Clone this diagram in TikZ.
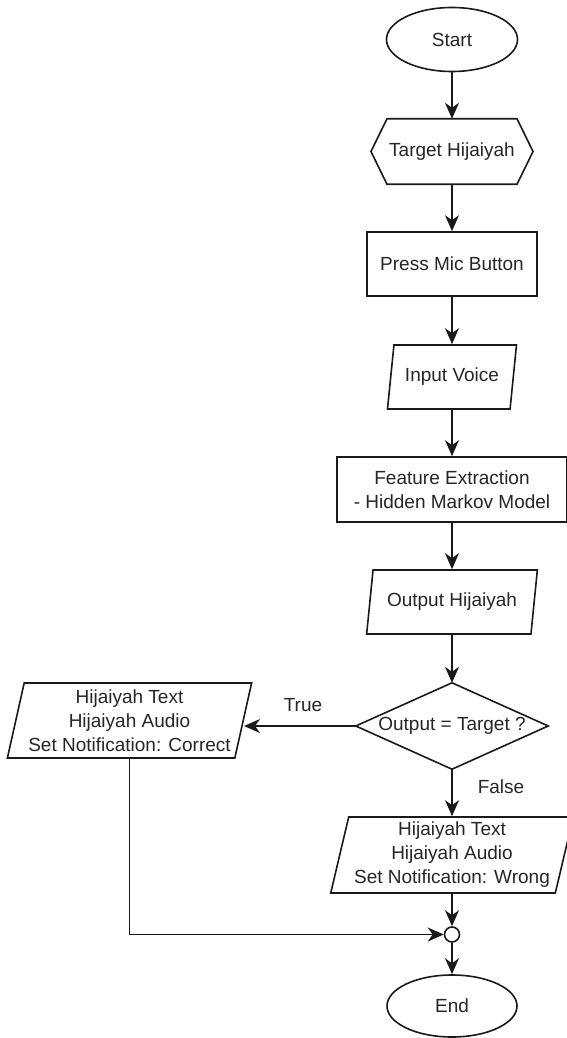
\documentclass[tikz,border=0pt]{standalone}
\usepackage{fontspec}
\setmainfont{Liberation Sans}
\usetikzlibrary{shapes.geometric,arrows.meta,calc}
\definecolor{ink}{HTML}{1A1A1A}
\definecolor{txt}{HTML}{262626}
\begin{document}
\begin{tikzpicture}[x=1pt,y=-1pt,
  every node/.style={font=\fontsize{19}{24}\selectfont, text=txt, align=center, inner sep=2pt},
  outline/.style={draw=ink, line width=1.6pt},
  terminal/.style={outline, ellipse, minimum width=131pt, minimum height=64pt},
  process/.style={outline, rectangle, minimum height=65pt},
  io/.style={outline, trapezium, trapezium left angle=76, trapezium right angle=104,
             trapezium stretches=true},
  joint/.style={outline, circle, minimum size=15pt, inner sep=0pt},
  flow/.style={draw=ink, line width=1.6pt, -{Stealth[length=16pt,width=14pt,inset=5pt]}}
]
\useasboundingbox[fill=white] (0,0) rectangle (566,1038);

% main column
\node[terminal] (start) at (452,39.5) {Start};

\node[minimum width=125pt, minimum height=65pt] (tgt) at (452,151.5) {Target Hijaiyah};
\draw[outline] ($(tgt.west)+(-16,0)$) -- (tgt.north west) -- (tgt.north east)
  -- ($(tgt.east)+(16,0)$) -- (tgt.south east) -- (tgt.south west) -- cycle;

\node[process, minimum width=170pt, minimum height=64pt] (mic) at (452,264) {Press Mic Button};
\node[io, minimum width=129pt, minimum height=64pt] (voice) at (452,377) {Input Voice};
\node[process, minimum width=230pt] (feat) at (452,489.5) {Feature Extraction\\- Hidden Markov Model};
\node[io, minimum width=171pt, minimum height=64pt] (out) at (452,602) {Output Hijaiyah};

\node[minimum width=192pt, minimum height=86pt] (dec) at (452,726) {Output = Target ?};
\draw[outline] (dec.north) -- (dec.east) -- (dec.south) -- (dec.west) -- cycle;

\node[io, minimum width=245pt, minimum height=75pt] (corr) at (129.5,720.5)
  {Hijaiyah Text\\Hijaiyah Audio\\Set Notification: Correct};
\node[io, minimum width=243pt, minimum height=76pt] (wrong) at (452,855)
  {Hijaiyah Text\\Hijaiyah Audio\\Set Notification: Wrong};

\node[joint] (join) at (452,934.5) {};
\node[terminal, minimum width=130pt, minimum height=62pt] (end) at (452,1006) {End};

% branch labels
\node (truelbl) at (303,705) {True};
\node (falselbl) at (501,787) {False};

% connectors
\draw[flow] (start.south) -- (tgt.north);
\draw[flow] (tgt.south) -- (mic.north);
\draw[flow] (mic.south) -- (voice.north);
\draw[flow] (voice.south) -- (feat.north);
\draw[flow] (feat.south) -- (out.north);
\draw[flow] (out.south) -- (dec.north);
\draw[flow] (dec.west) -- (dec.west -| corr.east);
\draw[flow] (dec.south) -- (wrong.north);
\draw[flow] (wrong.south) -- (join.north);
\draw[flow] (corr.south) |- (join.west);
\draw[flow] (join.south) -- (end.north);
\end{tikzpicture}
\end{document}
